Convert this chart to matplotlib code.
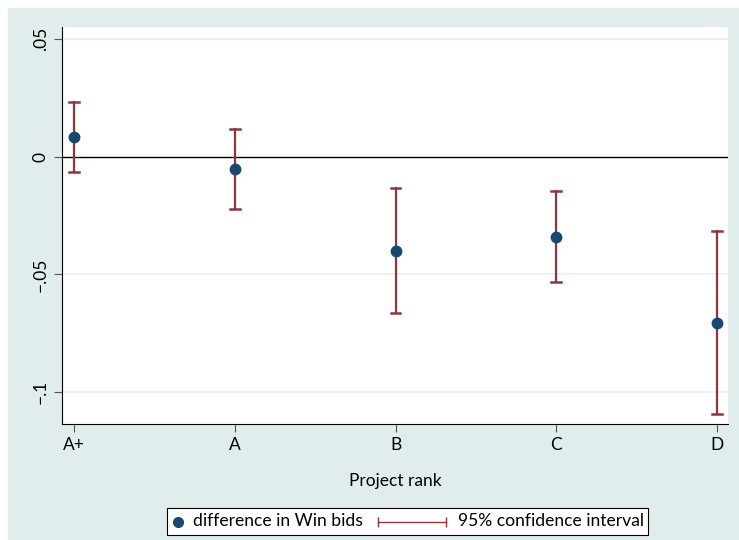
import matplotlib.pyplot as plt
from matplotlib.lines import Line2D
from matplotlib.patches import Rectangle

ranks = ['A+', 'A', 'B', 'C', 'D']
diff = [0.0085, -0.0051, -0.0400, -0.0340, -0.0705]
ci_low = [-0.0064, -0.0221, -0.0663, -0.0531, -0.1092]
ci_high = [0.0234, 0.0119, -0.0132, -0.0144, -0.0314]

navy = '#1a476f'
red = '#90353b'
bg = '#e1ecec'

plt.rcParams['font.family'] = ['Lato', 'DejaVu Sans']

W, H = 739, 540
fig = plt.figure(figsize=(W / 100, H / 100), dpi=100)
fig.patches.append(Rectangle((8 / W, 0), 1 - 8 / W, 1 - 8 / H,
                             transform=fig.transFigure, color=bg, zorder=-10))

ax = fig.add_axes([62 / W, 1 - 424 / H, (728 - 62) / W, (424 - 27) / H])
x = list(range(len(ranks)))

cap = 0.03
for i in x:
    ax.plot([i, i], [ci_low[i], ci_high[i]], color=red, lw=1.6, zorder=3)
    ax.plot([i - cap, i + cap], [ci_low[i], ci_low[i]], color=red, lw=1.8, zorder=3)
    ax.plot([i - cap, i + cap], [ci_high[i], ci_high[i]], color=red, lw=1.8, zorder=3)
ax.plot(x, diff, 'o', color=navy, ms=7.5, zorder=4)

ax.axhline(0, color='black', lw=1, zorder=2)
for g in [0.05, -0.05, -0.1]:
    ax.axhline(g, color='#e6efef', lw=1.2, zorder=1)

ax.set_xlim(-0.075, 4.068)
ax.set_ylim(-0.1136, 0.0551)
ax.set_yticks([0.05, 0, -0.05, -0.1])
ax.set_yticklabels(['.05', '0', '\u2212.05', '\u2212.1'], rotation=90, va='center')
ax.set_xticks(x)
ax.set_xticklabels(ranks)
ax.tick_params(labelsize=12.5, length=6, color='#555555')
for s in ['top', 'right']:
    ax.spines[s].set_visible(False)
ax.set_xlabel('Project rank', fontsize=12.5, labelpad=14)

# legend drawn by hand in pixel coordinates
def fx(px):
    return px / W

def fy(py):
    return 1 - py / H

fig.patches.append(Rectangle((fx(167), fy(535)), fx(648) - fx(167), fy(508) - fy(535),
                             transform=fig.transFigure, facecolor='white',
                             edgecolor='black', lw=0.8, zorder=5))
fig.lines.append(Line2D([fx(178)], [fy(521.5)], marker='o', ms=7, color=navy,
                        transform=fig.transFigure, zorder=6))
fig.text(fx(193), fy(521.5), 'difference in Win bids', fontsize=12.6, va='center', zorder=7)
fig.lines.append(Line2D([fx(378), fx(446)], [fy(521.5), fy(521.5)], color=red, lw=1,
                        marker='|', ms=7, mew=1, transform=fig.transFigure, zorder=6))
fig.text(fx(458), fy(521.5), '95% confidence interval', fontsize=12.6, va='center', zorder=7)

fig.savefig('out.png', dpi=100)
